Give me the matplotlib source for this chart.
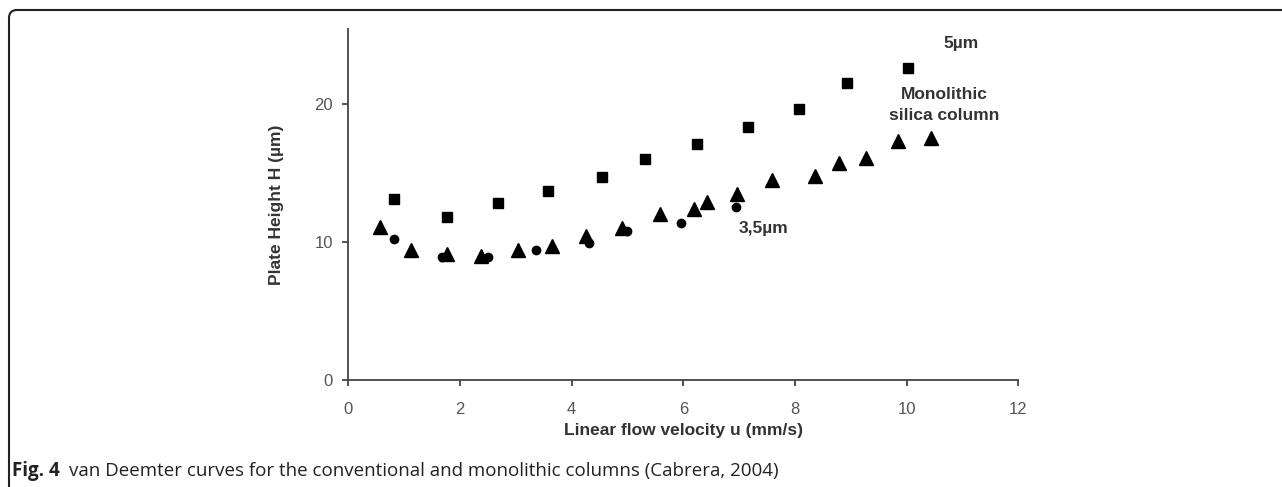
import matplotlib.pyplot as plt
from matplotlib.path import Path
from matplotlib.patches import PathPatch

# 5 um particle column (squares)
sq_u = [0.82, 1.76, 2.68, 3.57, 4.55, 5.31, 6.24, 7.16, 8.08, 8.94, 10.02]
sq_h = [13.1, 11.8, 12.8, 13.7, 14.7, 16.0, 17.1, 18.3, 19.6, 21.5, 22.6]

# monolithic silica column (triangles)
tri_u = [0.56, 1.12, 1.76, 2.37, 3.04, 3.64, 4.26, 4.90, 5.58, 6.19, 6.43,
         6.97, 7.59, 8.35, 8.79, 9.28, 9.84, 10.43]
tri_h = [11.1, 9.4, 9.1, 9.0, 9.4, 9.7, 10.4, 11.0, 12.0, 12.4, 12.9,
         13.5, 14.5, 14.8, 15.7, 16.1, 17.3, 17.5]

# 3.5 um particle column (circles)
cir_u = [0.81, 1.68, 2.51, 3.36, 4.31, 4.99, 5.95, 6.95]
cir_h = [10.2, 8.9, 8.9, 9.4, 9.9, 10.8, 11.4, 12.5]

x_ticks = [0, 2, 4, 6, 8, 10, 12]
y_ticks = [0, 10, 20]

plt.rcParams['font.family'] = ['Liberation Sans', 'DejaVu Sans']

W, H = 1282, 487
fig = plt.figure(figsize=(W / 100, H / 100), dpi=100)
ax = fig.add_axes([0.2717, 0.2197, 0.5226, 0.7203])

ax.plot(sq_u, sq_h, 's', color='black', markersize=7, linestyle='none')
ax.plot(tri_u, tri_h, '^', color='black', markersize=10, linestyle='none')
ax.plot(cir_u, cir_h, 'o', color='black', markersize=6, linestyle='none')

ax.set_xlim(0, 12)
ax.set_ylim(0, 25.4)
ax.set_xticks(x_ticks)
ax.set_yticks(y_ticks)
for s in ['top', 'right']:
    ax.spines[s].set_visible(False)
for s in ['left', 'bottom']:
    ax.spines[s].set_color('#444444')
    ax.spines[s].set_linewidth(1.3)
ax.tick_params(colors='#444444', labelcolor='#555555', labelsize=12,
               length=4, width=1.3)
ax.tick_params(axis='x', pad=12)
ax.tick_params(axis='y', pad=7)

bold = dict(fontsize=12.5, fontweight='bold', color='#333333')
ax.set_xlabel('Linear flow velocity u (mm/s)', labelpad=4, **bold)
ax.set_ylabel('Plate Height H (µm)', labelpad=22, **bold)

ax.text(10.97, 24.4, '5µm', ha='center', va='center', **bold)
ax.text(10.67, 19.9, 'Monolithic\nsilica column', ha='center', va='center',
        linespacing=1.45, **bold)
ax.text(7.43, 11.0, '3,5µm', ha='center', va='center', **bold)

# caption
fig.text(12 / W, 1 - 476 / H, 'Fig. 4', fontsize=13.5, fontweight='bold',
         family='Open Sans', color='#222222', va='baseline')
fig.text(69 / W, 1 - 476 / H,
         'van Deemter curves for the conventional and monolithic columns (Cabrera, 2004)',
         fontsize=13.5, family='Open Sans', color='#222222', va='baseline')

# open frame: left edge, rounded corner, top edge
x0, y0, r = 9, 10, 8
verts = [(x0, H), (x0, y0 + r), (x0, y0), (x0 + r, y0), (W, y0)]
verts = [(x / W, 1 - y / H) for x, y in verts]
codes = [Path.MOVETO, Path.LINETO, Path.CURVE3, Path.CURVE3, Path.LINETO]
frame = PathPatch(Path(verts, codes), transform=fig.transFigure, fill=False,
                  edgecolor='#222222', linewidth=1.5)
fig.patches.append(frame)

fig.savefig('out.png', dpi=100)
